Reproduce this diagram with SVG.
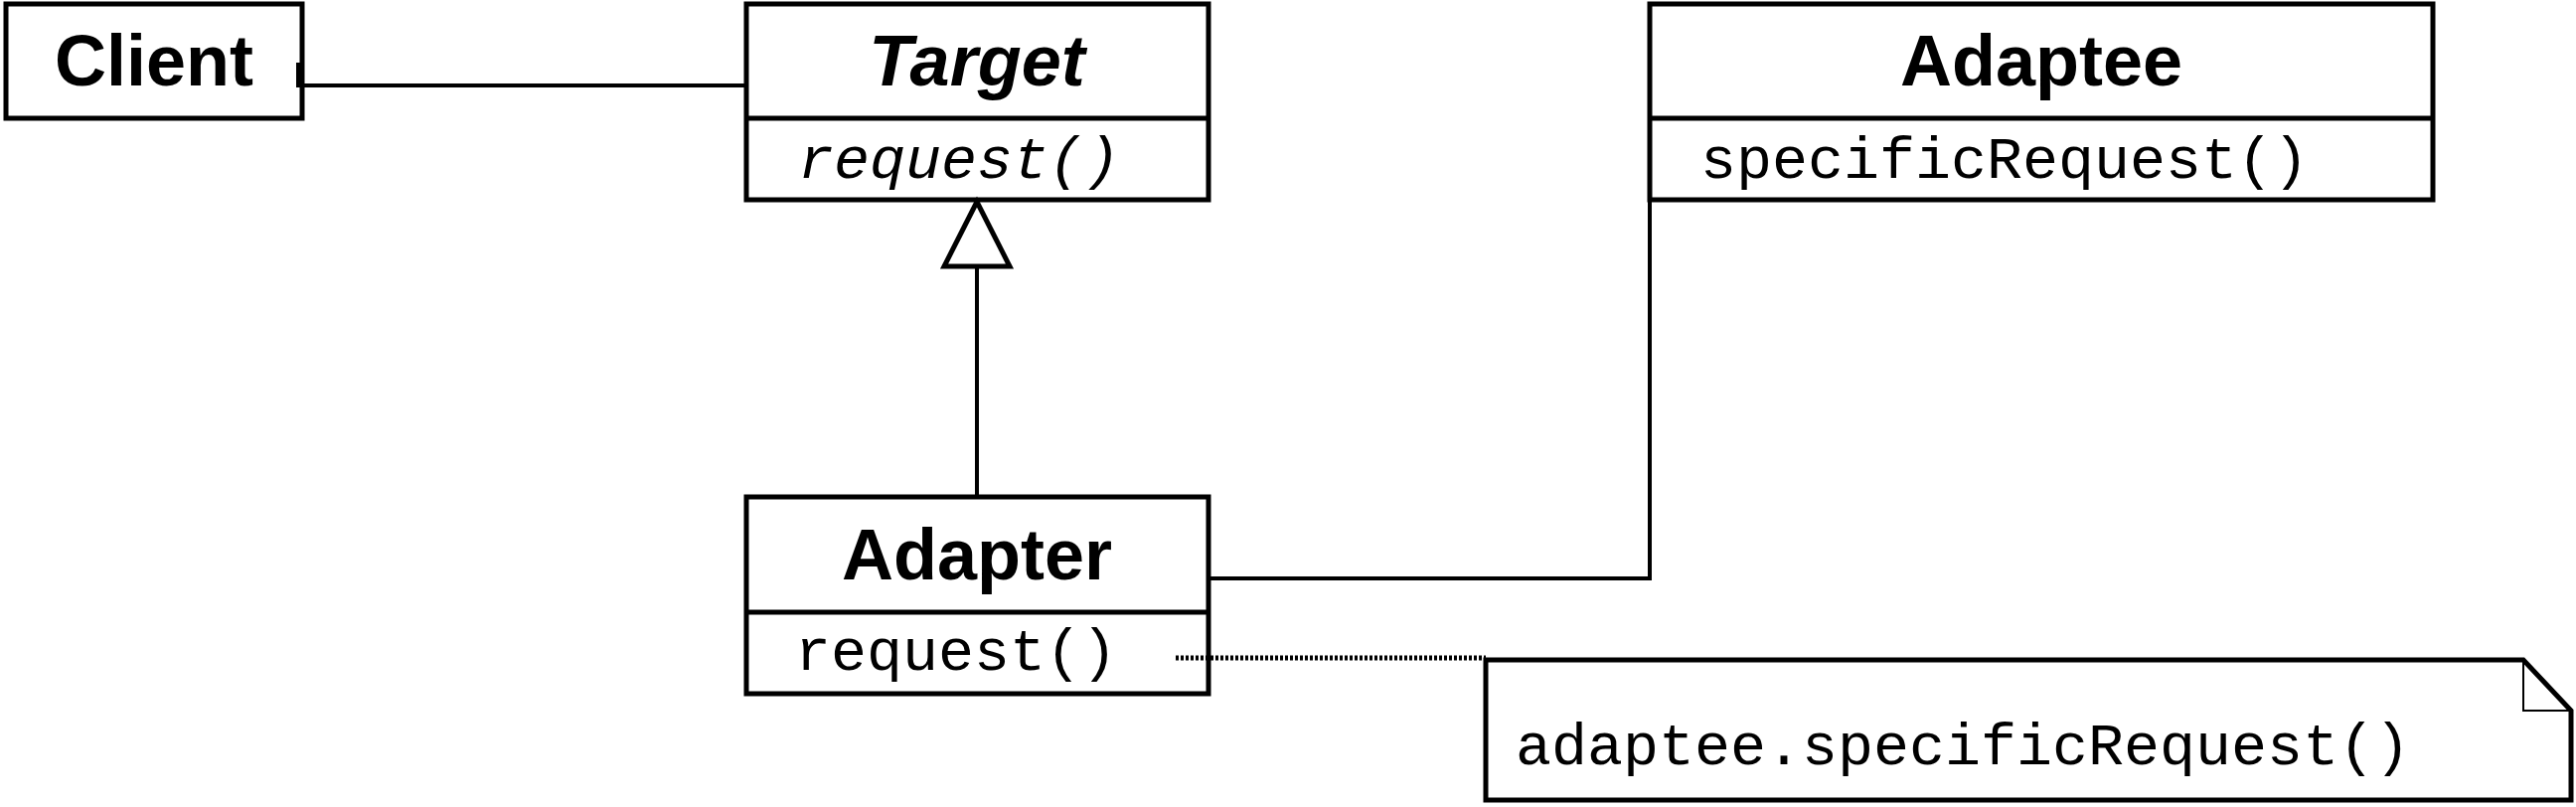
<svg xmlns="http://www.w3.org/2000/svg" width="2592" height="812" viewBox="0 0 2592 812">
<style>
.box{fill:#fff;stroke:#000;stroke-width:5}
.div{stroke:#000;stroke-width:5}
.name{font-family:"Liberation Sans",Arial,sans-serif;font-weight:bold;font-size:72px;text-anchor:middle;fill:#000}
.op{font-family:"Liberation Mono","Courier New",monospace;font-size:60px;fill:#000}
.conn{fill:none;stroke:#000;stroke-width:4}
</style>
<rect width="2592" height="812" fill="#fff"/>
<g id="client">
<rect class="box" x="6" y="4" width="298" height="115"/>
<text class="name" x="155" y="86">Client</text>
</g>
<g id="target">
<rect class="box" x="751" y="4" width="465" height="197"/>
<line class="div" x1="751" y1="119" x2="1216" y2="119"/>
<text class="name" x="983" y="86" font-style="italic">Target</text>
<text class="op" x="803" y="179" font-style="italic">request()</text>
</g>
<g id="adaptee">
<rect class="box" x="1660" y="4" width="788" height="197"/>
<line class="div" x1="1660" y1="119" x2="2448" y2="119"/>
<text class="name" x="2054" y="86">Adaptee</text>
<text class="op" x="1711" y="179">specificRequest()</text>
</g>
<g id="adapter">
<rect class="box" x="751" y="500" width="465" height="198"/>
<line class="div" x1="751" y1="616" x2="1216" y2="616"/>
<text class="name" x="983" y="583">Adapter</text>
<text class="op" x="800" y="674">request()</text>
</g>
<g id="note">
<path d="M1495,664 H2539 L2587,715 V805 H1495 Z" fill="#fff" stroke="#000" stroke-width="5"/>
<path d="M2539,664 V715 H2587" fill="none" stroke="#000" stroke-width="2"/>
<text class="op" x="1525" y="769">adaptee.specificRequest()</text>
</g>
<g id="connectors">
<path class="conn" d="M300,63 V86 H751"/>
<line class="conn" x1="983" y1="500" x2="983" y2="268"/>
<polygon points="983,203 950,268 1016,268" fill="#fff" stroke="#000" stroke-width="5"/>
<path class="conn" d="M1216,582 H1660 V201"/>
<line x1="1183" y1="662" x2="1495" y2="662" stroke="#000" stroke-width="5" stroke-dasharray="3 2"/>
</g>
</svg>
